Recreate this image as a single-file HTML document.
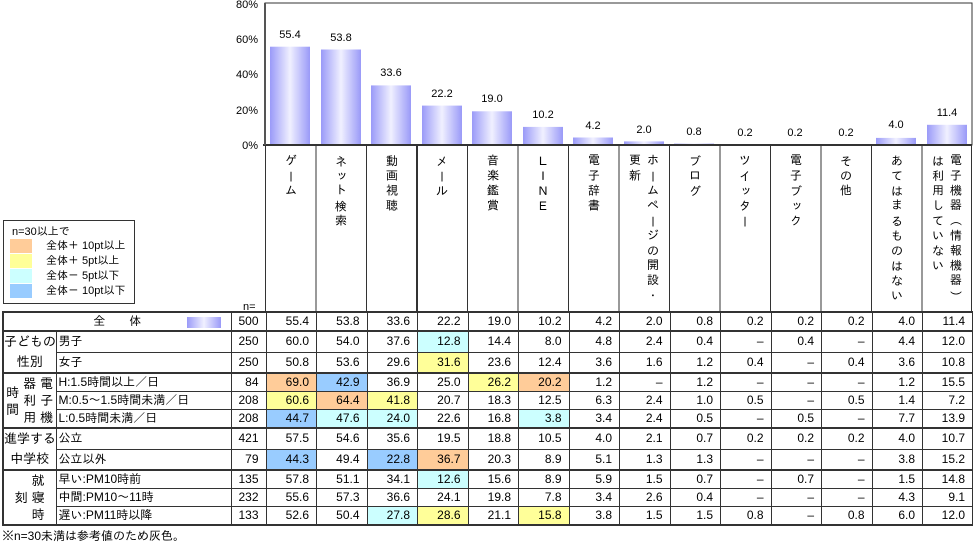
<!DOCTYPE html>
<html><head><meta charset="utf-8"><style>
body{margin:0;background:#fff;width:973px;height:542px;position:relative;overflow:hidden;font-family:"Liberation Sans","IPAGothic","Noto Sans CJK JP",sans-serif;color:#000}
.h{position:absolute;top:154px;width:50px;height:152px;display:flex;justify-content:center;font-size:12px}
.h div{writing-mode:vertical-rl;letter-spacing:3px;line-height:18px}
table{position:absolute;left:2px;top:311px;border-collapse:collapse;table-layout:fixed;font-size:12px;width:970px}
td{border:1px solid #333;padding:0 7px 0 0;text-align:right;height:17px;line-height:17px;white-space:nowrap;overflow:hidden}
tr.d td{border-bottom:1px dashed #888}
tr.d td.g{border-bottom:1px solid #333}
td.l{text-align:left;padding:0 0 0 2px}
td.g{text-align:center;padding:0;line-height:20px;font-size:13px}
tr.k td{border-top:2px solid #333}
.o{background:#ffcc99}.y{background:#ffff99}.c{background:#ccffff}.b{background:#99ccff}
.lg{position:absolute;left:3px;top:220px;width:130px;height:82px;border:1px solid #333;font-size:11px}
.lg div{position:absolute;left:6px;height:14px;line-height:14px}
.lg span{display:inline-block;width:22px;height:14px;vertical-align:top;margin-right:14px}
.vg{display:flex;justify-content:center;align-items:center;gap:4px;line-height:17px}
</style></head><body>
<svg width="973" height="320" style="position:absolute;left:0;top:0" font-size="11" font-family="Liberation Sans,IPAGothic,sans-serif">
<defs><linearGradient id="g" x1="0" x2="1"><stop offset="0" stop-color="#9a9af8"/><stop offset="0.5" stop-color="#f0f0ff"/><stop offset="1" stop-color="#9a9af8"/></linearGradient></defs>
<rect x="265" y="3" width="707" height="142" fill="none" stroke="#333" stroke-width="1"/>
<g text-anchor="end"><text x="258" y="8">80%</text><text x="258" y="43">60%</text><text x="258" y="78">40%</text><text x="258" y="114">20%</text><text x="258" y="149">0%</text></g>
<g fill="url(#g)">
<rect x="270" y="46.7" width="40" height="98.3"/><rect x="321" y="49.5" width="40" height="95.5"/><rect x="371" y="85.4" width="40" height="59.6"/><rect x="422" y="105.6" width="40" height="39.4"/><rect x="472" y="111.3" width="40" height="33.7"/><rect x="523" y="126.9" width="40" height="18.1"/><rect x="573" y="137.5" width="40" height="7.5"/><rect x="624" y="141.4" width="40" height="3.6"/><rect x="674" y="143.6" width="40" height="1.4"/><rect x="725" y="144.4" width="40" height="0.6"/><rect x="775" y="144.4" width="40" height="0.6"/><rect x="826" y="144.4" width="40" height="0.6"/><rect x="876" y="137.9" width="40" height="7.1"/><rect x="927" y="124.8" width="40" height="20.2"/>
</g>
<g text-anchor="middle">
<text x="290" y="38">55.4</text><text x="341" y="41">53.8</text><text x="391" y="76">33.6</text><text x="442" y="97">22.2</text><text x="492" y="102">19.0</text><text x="543" y="118">10.2</text><text x="593" y="129">4.2</text><text x="644" y="133">2.0</text><text x="694" y="135">0.8</text><text x="745" y="136">0.2</text><text x="795" y="136">0.2</text><text x="846" y="136">0.2</text><text x="896" y="128">4.0</text><text x="947" y="116">11.4</text>
</g>
<line x1="263" y1="145" x2="972" y2="145" stroke="#333" stroke-width="2"/>
<line x1="265" y1="3" x2="265" y2="145" stroke="#555" stroke-width="2"/>
<g stroke="#333"><line x1="265.5" y1="145" x2="265.5" y2="312"/><line x1="316" y1="145" x2="316" y2="312"/><line x1="366.5" y1="145" x2="366.5" y2="312"/><line x1="417" y1="145" x2="417" y2="312" stroke-width="2"/><line x1="467.5" y1="145" x2="467.5" y2="312"/><line x1="518" y1="145" x2="518" y2="312"/><line x1="568.5" y1="145" x2="568.5" y2="312"/><line x1="619" y1="145" x2="619" y2="312"/><line x1="669.5" y1="145" x2="669.5" y2="312"/><line x1="720" y1="145" x2="720" y2="312"/><line x1="770.5" y1="145" x2="770.5" y2="312"/><line x1="821" y1="145" x2="821" y2="312"/><line x1="871.5" y1="145" x2="871.5" y2="312"/><line x1="922" y1="145" x2="922" y2="312"/><line x1="971.5" y1="145" x2="971.5" y2="312"/></g>
<text x="243" y="310">n=</text>
</svg>
<div class="h" style="left:266px"><div>ゲーム</div></div>
<div class="h" style="left:316px"><div>ネット検索</div></div>
<div class="h" style="left:367px"><div>動画視聴</div></div>
<div class="h" style="left:417px"><div>メール</div></div>
<div class="h" style="left:468px"><div>音楽鑑賞</div></div>
<div class="h" style="left:518px"><div>ＬＩＮＥ</div></div>
<div class="h" style="left:569px"><div>電子辞書</div></div>
<div class="h" style="left:619px"><div>ホームページの開設・<br>更新</div></div>
<div class="h" style="left:670px"><div>ブログ</div></div>
<div class="h" style="left:720px"><div>ツイッター</div></div>
<div class="h" style="left:771px"><div>電子ブック</div></div>
<div class="h" style="left:821px"><div>その他</div></div>
<div class="h" style="left:872px"><div>あてはまるものはない</div></div>
<div class="h" style="left:922px"><div>電子機器（情報機器）<br>は利用していない</div></div>
<div class="lg">
<div style="top:4px;left:8px">n=30以上で</div>
<div style="top:18px"><span class="o"></span>全体＋ 10pt以上</div>
<div style="top:33px"><span class="y"></span>全体＋ 5pt以上</div>
<div style="top:48px"><span class="c"></span>全体－ 5pt以下</div>
<div style="top:63px"><span class="b"></span>全体－ 10pt以下</div>
</div>
<table style="border:2px solid #333">
<colgroup><col style="width:53px"><col style="width:175px"><col style="width:35px"><col span="14" style="width:50.5px"></colgroup>
<tr><td colspan="2" style="text-align:center;position:relative;padding:0">全　　体<span style="position:absolute;left:183px;top:4px;width:34px;height:11px;background:linear-gradient(90deg,#9a9af8,#f0f0ff,#9a9af8)"></span></td><td>500</td><td>55.4</td><td>53.8</td><td>33.6</td><td>22.2</td><td>19.0</td><td>10.2</td><td>4.2</td><td>2.0</td><td>0.8</td><td>0.2</td><td>0.2</td><td>0.2</td><td>4.0</td><td>11.4</td></tr>
<tr class="d k"><td class="g" rowspan="2">子どもの<br>性別</td><td class="l">男子</td><td>250</td><td>60.0</td><td>54.0</td><td>37.6</td><td class="c">12.8</td><td>14.4</td><td>8.0</td><td>4.8</td><td>2.4</td><td>0.4</td><td>–</td><td>0.4</td><td>–</td><td>4.4</td><td>12.0</td></tr>
<tr><td class="l">女子</td><td>250</td><td>50.8</td><td>53.6</td><td>29.6</td><td class="y">31.6</td><td>23.6</td><td>12.4</td><td>3.6</td><td>1.6</td><td>1.2</td><td>0.4</td><td>–</td><td>0.4</td><td>3.6</td><td>10.8</td></tr>
<tr class="d k"><td class="g" rowspan="3"><div class="vg"><span>時<br>間</span><span>器<br>利<br>用</span><span>電<br>子<br>機</span></div></td><td class="l">H:1.5時間以上／日</td><td>84</td><td class="o">69.0</td><td class="b">42.9</td><td>36.9</td><td>25.0</td><td class="y">26.2</td><td class="o">20.2</td><td>1.2</td><td>–</td><td>1.2</td><td>–</td><td>–</td><td>–</td><td>1.2</td><td>15.5</td></tr>
<tr class="d"><td class="l">M:0.5～1.5時間未満／日</td><td>208</td><td class="y">60.6</td><td class="o">64.4</td><td class="y">41.8</td><td>20.7</td><td>18.3</td><td>12.5</td><td>6.3</td><td>2.4</td><td>1.0</td><td>0.5</td><td>–</td><td>0.5</td><td>1.4</td><td>7.2</td></tr>
<tr><td class="l">L:0.5時間未満／日</td><td>208</td><td class="b">44.7</td><td class="c">47.6</td><td class="c">24.0</td><td>22.6</td><td>16.8</td><td class="c">3.8</td><td>3.4</td><td>2.4</td><td>0.5</td><td>–</td><td>0.5</td><td>–</td><td>7.7</td><td>13.9</td></tr>
<tr class="d k"><td class="g" rowspan="2">進学する<br>中学校</td><td class="l">公立</td><td>421</td><td>57.5</td><td>54.6</td><td>35.6</td><td>19.5</td><td>18.8</td><td>10.5</td><td>4.0</td><td>2.1</td><td>0.7</td><td>0.2</td><td>0.2</td><td>0.2</td><td>4.0</td><td>10.7</td></tr>
<tr><td class="l">公立以外</td><td>79</td><td class="b">44.3</td><td>49.4</td><td class="b">22.8</td><td class="o">36.7</td><td>20.3</td><td>8.9</td><td>5.1</td><td>1.3</td><td>1.3</td><td>–</td><td>–</td><td>–</td><td>3.8</td><td>15.2</td></tr>
<tr class="d k"><td class="g" rowspan="3"><div class="vg"><span>刻</span><span>就<br>寝<br>時</span></div></td><td class="l">早い:PM10時前</td><td>135</td><td>57.8</td><td>51.1</td><td>34.1</td><td class="c">12.6</td><td>15.6</td><td>8.9</td><td>5.9</td><td>1.5</td><td>0.7</td><td>–</td><td>0.7</td><td>–</td><td>1.5</td><td>14.8</td></tr>
<tr class="d"><td class="l">中間:PM10～11時</td><td>232</td><td>55.6</td><td>57.3</td><td>36.6</td><td>24.1</td><td>19.8</td><td>7.8</td><td>3.4</td><td>2.6</td><td>0.4</td><td>–</td><td>–</td><td>–</td><td>4.3</td><td>9.1</td></tr>
<tr><td class="l">遅い:PM11時以降</td><td>133</td><td>52.6</td><td>50.4</td><td class="c">27.8</td><td class="y">28.6</td><td>21.1</td><td class="y">15.8</td><td>3.8</td><td>1.5</td><td>1.5</td><td>0.8</td><td>–</td><td>0.8</td><td>6.0</td><td>12.0</td></tr>
</table>
<div style="position:absolute;left:2px;top:529px;font-size:12px">※n=30未満は参考値のため灰色。</div>
</body></html>
